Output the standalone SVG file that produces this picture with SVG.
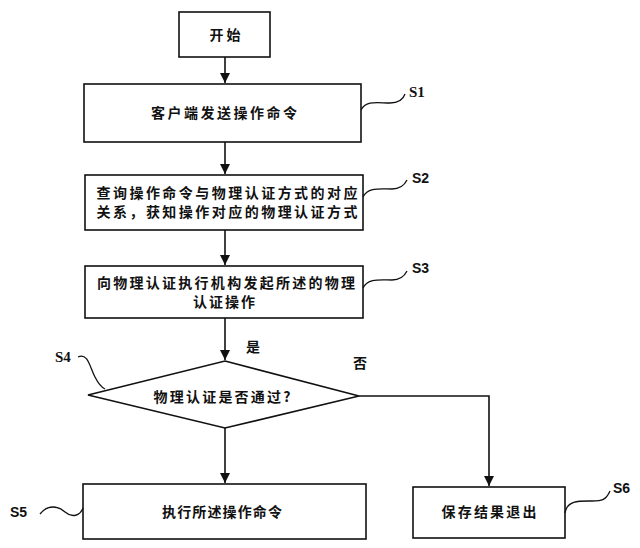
<svg xmlns="http://www.w3.org/2000/svg" width="640" height="548" viewBox="0 0 640 548">
<style>
.box{fill:#fff;stroke:#111;stroke-width:1.6}
.t{font-family:"Noto Sans CJK SC","Noto Sans",sans-serif;font-weight:bold;font-size:14px;fill:#111}
.lbS{font-family:"Liberation Sans","DejaVu Sans",sans-serif;font-weight:bold;font-size:14px;fill:#111}
.lbR{font-family:"Liberation Serif","DejaVu Serif",serif;font-weight:bold;font-size:15px;fill:#111}
.ln{fill:none;stroke:#111;stroke-width:1.6}
.sq{fill:none;stroke:#111;stroke-width:1.3}
</style>
<defs>
<marker id="ah" markerWidth="10" markerHeight="12" refX="10" refY="5" orient="auto" markerUnits="userSpaceOnUse">
<path d="M0,0 L10,5 L0,10 Z" fill="#111"/>
</marker>
</defs>
<rect width="640" height="548" fill="#fff"/>
<g id="connectors">
<line class="ln" x1="225" y1="57" x2="225" y2="83" marker-end="url(#ah)"/>
<line class="ln" x1="225" y1="142" x2="225" y2="174" marker-end="url(#ah)"/>
<line class="ln" x1="225" y1="230" x2="225" y2="265" marker-end="url(#ah)"/>
<line class="ln" x1="225" y1="318" x2="225" y2="360" marker-end="url(#ah)"/>
<line class="ln" x1="225" y1="428" x2="225" y2="483" marker-end="url(#ah)"/>
<polyline class="ln" points="359,396 489,396 489,486" marker-end="url(#ah)"/>
<text class="t" x="253" y="352" text-anchor="middle">是</text>
<text class="t" x="360" y="368" text-anchor="middle">否</text>
</g>
<g id="start">
<rect class="box" x="179" y="12" width="91" height="45"/>
<text class="t" x="225" y="40" text-anchor="middle" textLength="31" lengthAdjust="spacing">开始</text>
</g>
<g id="s1">
<rect class="box" x="84" y="84" width="277" height="58"/>
<text class="t" x="224" y="118" text-anchor="middle" textLength="146" lengthAdjust="spacing">客户端发送操作命令</text>
<path class="sq" d="M361,110 C366,100 378,103 390,103 C399,103 403,100 405,94"/>
<text class="lbR" x="409" y="97">S1</text>
</g>
<g id="s2">
<rect class="box" x="85" y="175" width="278" height="55"/>
<text class="t" x="227" y="198" text-anchor="middle" textLength="261" lengthAdjust="spacing">查询操作命令与物理认证方式的对应</text>
<text class="t" x="227" y="217" text-anchor="middle" textLength="261" lengthAdjust="spacing">关系，获知操作对应的物理认证方式</text>
<path class="sq" d="M363,197 C368,187 380,189 392,189 C400,189 404,186 407,180"/>
<text class="lbS" x="412" y="183">S2</text>
</g>
<g id="s3">
<rect class="box" x="85" y="266" width="278" height="52"/>
<text class="t" x="226" y="288" text-anchor="middle" textLength="258" lengthAdjust="spacing">向物理认证执行机构发起所述的物理</text>
<text class="t" x="224" y="307" text-anchor="middle" textLength="62" lengthAdjust="spacing">认证操作</text>
<path class="sq" d="M363,288 C368,278 380,280 392,280 C400,280 404,277 407,271"/>
<text class="lbS" x="412" y="273">S3</text>
</g>
<g id="s4">
<polygon class="box" points="225,361 359,396 225,428 88,395"/>
<text class="t" x="222" y="402" text-anchor="middle" textLength="137" lengthAdjust="spacing">物理认证是否通过?</text>
<path class="sq" d="M78,357 C88,352 90,368 95,377 C98,383 101,387 105,389"/>
<text class="lbR" x="55" y="362">S4</text>
</g>
<g id="s5">
<rect class="box" x="83" y="484" width="283" height="55"/>
<text class="t" x="222" y="517" text-anchor="middle" textLength="120" lengthAdjust="spacing">执行所述操作命令</text>
<path class="sq" d="M40,514 C48,504 58,506 65,512 C72,518 80,516 83,508"/>
<text class="lbS" x="10" y="517">S5</text>
</g>
<g id="s6">
<rect class="box" x="413" y="487" width="152" height="51"/>
<text class="t" x="489" y="517" text-anchor="middle" textLength="95" lengthAdjust="spacing">保存结果退出</text>
<path class="sq" d="M565,513 C567,500 580,501 592,501 C602,501 606,500 610,491"/>
<text class="lbS" x="613" y="493">S6</text>
</g>
</svg>
